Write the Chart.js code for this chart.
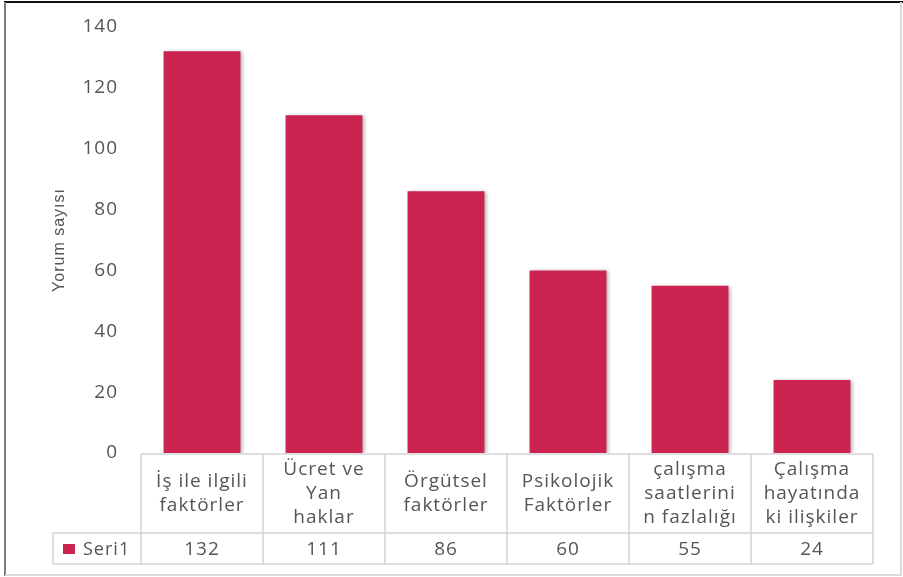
<!DOCTYPE html>
<html>
<head>
<meta charset="utf-8">
<script src="https://cdn.jsdelivr.net/npm/chart.js@4.4.1/dist/chart.umd.min.js"></script>
<style>
  html, body { margin: 0; padding: 0; background: #ffffff; }
  canvas { display: block; }
</style>
</head>
<body>
<canvas id="chart" width="903" height="577"></canvas>
<script>
// Categories (each entry is the wrapped header text of the data table)
const categories = [
  ["İş ile ilgili", "faktörler"],
  ["Ücret ve", "Yan", "haklar"],
  ["Örgütsel", "faktörler"],
  ["Psikolojik", "Faktörler"],
  ["çalışma", "saatlerini", "n fazlalığı"],
  ["Çalışma", "hayatında", "ki ilişkiler"]
];
const seriesName = "Seri1";
const seriesValues = [132, 111, 86, 60, 55, 24];
const yTicks = [0, 20, 40, 60, 80, 100, 120, 140];
const yTitle = "Yorum sayısı";

const BAR = "#CC2450";
const TEXT = "#555555";
const GRID = "#d4d4d4";
const FONT = "'Open Sans', 'DejaVu Sans', sans-serif";

// Bar drop shadow
const shadowPlugin = {
  id: "barShadow",
  beforeDatasetsDraw(chart) {
    const ctx = chart.ctx;
    ctx.save();
    ctx.shadowColor = "rgba(0,0,0,0.35)";
    ctx.shadowBlur = 4;
    ctx.shadowOffsetX = 2;
    ctx.shadowOffsetY = 1;
  },
  afterDatasetsDraw(chart) {
    chart.ctx.restore();
  }
};

// Wider letter spacing for all the chart text
const spacingPlugin = {
  id: "spacing",
  beforeDraw(chart) { chart.ctx.letterSpacing = "1px"; }
};

// Data table under the plot plus the outer frame
const tablePlugin = {
  id: "dataTable",
  afterDraw(chart) {
    const ctx = chart.ctx;
    const xs = chart.scales.x;
    const area = chart.chartArea;
    const half = (xs.getPixelForValue(1) - xs.getPixelForValue(0)) / 2;
    const left = xs.getPixelForValue(0) - half;
    const right = xs.getPixelForValue(categories.length - 1) + half;
    const top = area.bottom + 1;
    const mid = top + 79;
    const bot = mid + 31;
    const legendLeft = 53;

    ctx.save();
    ctx.letterSpacing = "1px";
    ctx.strokeStyle = GRID;
    ctx.lineWidth = 1.5;
    ctx.beginPath();
    // horizontal rules
    ctx.moveTo(left, top); ctx.lineTo(right, top);
    ctx.moveTo(legendLeft, mid); ctx.lineTo(right, mid);
    ctx.moveTo(legendLeft, bot); ctx.lineTo(right, bot);
    // vertical rules
    ctx.moveTo(legendLeft, mid); ctx.lineTo(legendLeft, bot);
    for (let i = 0; i <= categories.length; i++) {
      const x = left + i * 2 * half;
      ctx.moveTo(x, top); ctx.lineTo(x, bot);
    }
    ctx.stroke();

    ctx.fillStyle = TEXT;
    ctx.textAlign = "center";
    ctx.textBaseline = "middle";
    ctx.font = "19px " + FONT;
    const lh = 24;
    categories.forEach((lines, i) => {
      const cx = xs.getPixelForValue(i);
      const cy = (top + mid) / 2;
      const start = cy - (lines.length - 1) * lh / 2;
      lines.forEach((t, j) => ctx.fillText(t, cx, start + j * lh));
    });
    ctx.font = "19px " + FONT;
    seriesValues.forEach((v, i) => {
      ctx.fillText(String(v), xs.getPixelForValue(i), (mid + bot) / 2 + 1);
    });

    // legend key
    ctx.fillStyle = BAR;
    ctx.fillRect(63, 544, 12, 10);
    ctx.fillStyle = TEXT;
    ctx.textAlign = "left";
    ctx.font = "18px " + FONT;
    ctx.fillText(seriesName, 83, (mid + bot) / 2 + 1);

    // outer frame
    ctx.letterSpacing = "0px";
    ctx.lineWidth = 2;
    ctx.strokeStyle = "#111111";
    ctx.beginPath(); ctx.moveTo(4, 2); ctx.lineTo(903, 2); ctx.stroke();
    ctx.strokeStyle = "#7a7a7a";
    ctx.beginPath(); ctx.moveTo(5, 2); ctx.lineTo(5, 576); ctx.stroke();
    ctx.strokeStyle = "#d9d9d9";
    ctx.beginPath(); ctx.moveTo(5, 575); ctx.lineTo(902, 575); ctx.stroke();
    ctx.beginPath(); ctx.moveTo(901, 2); ctx.lineTo(901, 575); ctx.stroke();
    ctx.restore();
  }
};

new Chart(document.getElementById("chart"), {
  type: "bar",
  data: {
    labels: categories,
    datasets: [{
      label: seriesName,
      data: seriesValues,
      backgroundColor: BAR,
      borderWidth: 0,
      categoryPercentage: 1,
      barPercentage: 0.63
    }]
  },
  options: {
    responsive: false,
    animation: false,
    devicePixelRatio: 1,
    layout: { padding: { left: 50, right: 30, top: 27, bottom: 124 } },
    plugins: { legend: { display: false }, tooltip: { enabled: false } },
    scales: {
      x: { display: false, offset: true },
      y: {
        min: 0,
        max: 140,
        afterBuildTicks: (s) => { s.ticks = yTicks.map(v => ({ value: v })); },
        afterFit: (s) => { s.width = 91; s.paddingTop = 0; s.paddingBottom = 0; },
        grid: { display: false, drawTicks: false },
        border: { display: false },
        ticks: { color: TEXT, font: { family: FONT, size: 19 }, padding: 23 },
        title: {
          display: true,
          text: yTitle,
          color: TEXT,
          font: { family: "'Liberation Sans', sans-serif", size: 16 },
          padding: 0
        }
      }
    }
  },
  plugins: [spacingPlugin, shadowPlugin, tablePlugin]
});
</script>
</body>
</html>
